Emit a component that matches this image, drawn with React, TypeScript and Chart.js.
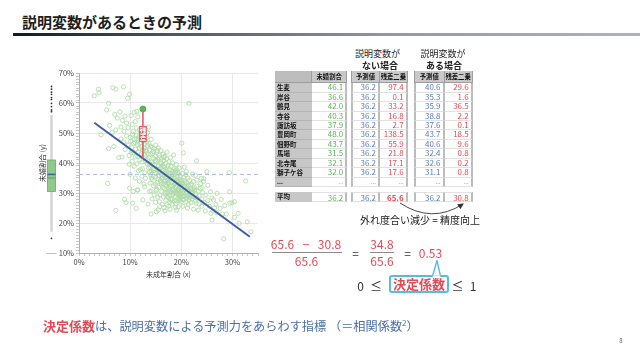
import React, { useEffect, useRef } from 'react';
import { Chart, registerables } from 'chart.js';
Chart.register(...registerables);

// ---------- chart data ----------
const scatterPoints: [number, number][] = [
  [3.0, 62.4], [3.8, 64.6], [3.9, 63.4], [6.6, 65.1], [7.2, 64.6], [8.7, 65.4], [9.5, 61.6], [9.9, 62.9],
  [5.8, 59.9], [5.4, 57.7], [7.0, 56.2], [7.5, 55.0], [8.0, 57.0], [8.5, 54.2], [9.0, 55.6], [9.3, 53.3],
  [10.2, 55.8], [10.8, 56.9], [11.3, 57.2], [11.5, 55.4], [6.0, 52.5], [7.2, 51.0], [8.2, 52.0], [8.8, 50.6],
  [9.6, 51.8], [10.4, 52.9], [11.0, 53.8], [4.3, 49.4], [6.5, 50.2], [5.8, 44.8], [6.8, 45.5], [8.2, 48.0],
  [8.8, 47.0], [9.3, 49.0], [10.0, 48.5], [10.6, 50.5], [11.2, 49.2], [11.8, 51.0], [9.0, 44.5], [9.6, 46.0],
  [7.8, 41.8], [8.4, 42.0], [9.8, 42.5], [10.4, 44.0], [11.0, 46.8], [11.6, 47.5], [5.6, 33.2], [7.2, 24.2],
  [9.2, 26.8], [10.6, 30.5], [11.4, 31.0], [21.5, 59.9], [20.1, 46.6], [20.4, 43.4], [23.0, 40.7], [25.0, 37.1],
  [29.4, 36.8], [32.6, 34.0], [29.4, 30.4], [29.5, 26.6], [29.9, 26.8], [30.4, 27.1], [28.3, 14.7], [31.1, 23.2],
  [30.4, 21.9], [28.0, 23.0], [28.8, 23.0], [32.9, 20.4], [33.6, 17.1], [31.3, 19.9], [26.0, 21.0], [27.0, 23.4],
  [27.6, 24.9], [26.3, 27.7], [25.7, 30.4], [24.3, 33.8], [23.9, 34.9], [27.0, 29.9], [8.9, 27.9], [10.5, 26.6],
  [9.9, 31.6], [11.5, 31.0], [11.2, 24.9], [12.5, 27.7], [13.5, 26.3], [12.8, 32.1], [14.1, 23.0], [15.1, 23.8],
  [15.8, 25.4], [16.8, 24.1], [17.8, 24.6], [19.1, 24.3], [19.4, 25.4], [21.4, 26.3], [22.4, 24.6], [22.9, 26.6],
  [10.1, 47.2], [10.3, 45.1], [10.5, 49.6], [10.7, 43.4], [10.9, 47.9], [11.1, 44.6], [11.2, 51.7], [11.4, 46.2],
  [11.5, 42.1], [11.7, 48.8], [11.8, 44.9], [12.0, 50.4], [12.1, 46.9], [12.2, 43.1], [12.3, 40.3], [12.6, 47.6],
  [12.7, 45.0], [12.8, 49.9], [12.9, 42.6], [13.0, 51.3], [13.1, 44.3], [13.2, 47.0], [13.3, 39.8], [13.4, 45.8],
  [13.5, 43.0], [10.4, 40.6], [10.8, 38.9], [11.3, 39.7], [11.6, 37.4], [11.9, 41.0], [12.4, 38.1], [12.5, 44.2],
  [12.9, 36.7], [13.3, 48.6], [13.6, 52.0], [10.0, 36.2], [11.0, 35.0], [11.8, 33.9], [12.3, 35.6], [12.7, 33.0],
  [13.6, 46.5], [13.7, 41.8], [13.8, 44.4], [13.9, 38.6], [14.0, 42.9], [14.0, 36.1], [14.1, 47.9], [14.2, 40.2],
  [14.3, 45.2], [14.3, 34.5], [14.4, 43.1], [14.5, 38.0], [14.6, 41.5], [14.6, 32.4], [14.7, 44.8], [14.8, 39.4],
  [14.8, 36.7], [14.9, 42.3], [15.0, 35.3], [15.0, 46.0], [15.1, 40.6], [15.1, 30.8], [15.2, 43.7], [15.3, 37.9],
  [15.3, 33.6], [15.4, 41.1], [15.5, 39.0], [15.5, 45.0], [15.6, 35.9], [15.6, 31.9], [15.7, 42.6], [15.8, 37.2],
  [15.8, 29.3], [15.9, 40.0], [15.9, 34.2], [16.0, 44.1], [16.0, 38.4], [16.1, 32.8], [16.1, 36.3], [16.2, 41.6],
  [16.2, 30.4], [16.3, 39.3], [16.3, 34.9], [16.4, 37.5], [16.4, 43.0], [16.5, 33.1], [16.5, 28.7], [16.6, 40.8],
  [16.6, 35.7], [16.7, 31.5], [16.7, 38.6], [16.8, 42.2], [16.8, 36.6], [16.9, 33.9], [16.9, 29.8], [17.0, 39.9],
  [17.0, 35.1], [17.0, 27.6], [13.7, 39.9], [14.2, 37.3], [14.5, 35.6], [14.9, 33.0], [15.2, 31.2], [15.4, 28.6],
  [13.9, 33.3], [14.1, 30.7], [14.7, 29.4], [15.7, 27.1], [16.3, 26.2],
  [17.1, 41.4], [17.1, 32.3], [17.2, 37.0], [17.3, 34.2], [17.3, 30.1], [17.4, 39.0], [17.4, 28.4], [17.5, 35.8],
  [17.5, 33.0], [17.6, 40.4], [17.6, 31.0], [17.7, 37.8], [17.7, 29.2], [17.8, 34.8], [17.8, 26.9], [17.9, 36.5],
  [17.9, 32.0], [18.0, 38.9], [18.0, 30.4], [18.1, 33.7], [18.1, 35.6], [18.2, 28.0], [18.2, 37.2], [18.3, 31.3],
  [18.3, 40.0], [18.4, 34.4], [18.4, 29.5], [18.5, 36.1], [18.5, 32.6], [18.6, 27.3], [18.6, 38.0], [18.7, 30.7],
  [18.7, 35.0], [18.8, 33.3], [18.8, 28.8], [18.9, 36.9], [18.9, 31.8], [19.0, 34.0], [19.0, 26.4], [19.1, 29.9],
  [19.1, 37.7], [19.2, 32.5], [19.2, 35.4], [19.3, 28.2], [19.3, 30.9], [19.4, 33.8], [19.4, 36.3], [19.5, 29.3],
  [19.5, 31.6], [19.6, 27.5], [19.6, 34.6], [19.7, 32.9], [19.7, 30.2], [19.8, 28.6], [19.8, 35.7], [19.9, 31.4],
  [19.9, 33.2], [20.0, 29.8], [20.0, 27.0], [17.2, 43.6], [17.9, 41.8], [18.5, 42.7], [19.0, 39.5], [19.6, 38.3],
  [17.5, 25.6], [18.9, 25.2],
  [20.1, 34.3], [20.1, 31.8], [20.2, 36.5], [20.3, 28.9], [20.3, 33.0], [20.4, 30.5], [20.5, 35.1], [20.5, 27.7],
  [20.6, 32.2], [20.7, 29.4], [20.7, 34.0], [20.8, 31.1], [20.9, 27.0], [20.9, 36.0], [21.0, 30.0], [21.0, 33.5],
  [21.1, 28.4], [21.2, 31.9], [21.3, 35.0], [21.3, 29.3], [21.4, 32.7], [21.5, 27.7], [21.5, 30.6], [21.6, 34.2],
  [21.7, 29.0], [21.8, 31.5], [21.9, 26.8], [22.0, 33.0], [22.0, 29.9], [22.1, 28.1], [22.2, 31.2], [22.3, 30.2],
  [22.4, 33.8], [22.5, 28.7], [22.6, 31.7], [22.7, 27.3], [22.8, 29.8], [23.0, 32.3], [23.1, 28.3], [23.3, 30.6],
  [23.5, 29.0], [23.7, 31.5], [24.0, 28.0], [24.2, 30.1], [24.5, 26.8], [24.8, 29.3], [25.2, 27.5], [25.5, 25.6],
  [26.0, 28.3], [26.5, 25.0], [23.8, 33.2], [24.4, 34.8], [21.0, 37.2], [22.2, 36.3], [20.6, 38.6],
  [13.4, 41.2], [13.8, 37.0], [14.0, 45.6], [14.2, 35.0], [14.4, 39.6], [14.6, 43.9], [14.7, 37.5], [14.9, 40.8],
  [15.1, 36.5], [15.3, 44.2], [15.4, 34.6], [15.6, 38.0], [15.7, 41.7], [15.9, 36.9], [16.0, 33.5], [16.1, 39.8],
  [16.2, 35.1], [16.4, 31.9], [16.5, 38.9], [16.6, 42.0], [16.7, 34.2], [16.8, 30.3], [16.9, 37.8], [17.0, 32.9],
  [17.1, 36.1], [17.2, 29.0], [17.3, 38.3], [17.4, 33.5], [17.5, 31.6], [17.6, 36.6], [17.7, 34.0], [17.8, 30.7],
  [17.9, 27.8], [18.0, 35.0], [18.1, 32.5], [18.2, 29.3], [18.3, 36.4], [18.4, 31.0], [18.5, 34.9], [18.6, 29.9],
  [18.7, 33.0], [18.8, 37.4], [18.9, 30.1], [19.0, 32.2], [19.1, 27.3], [19.2, 34.2], [19.3, 36.9], [19.4, 29.8],
  [19.5, 33.0], [19.6, 31.0], [19.7, 28.0], [19.8, 33.9], [19.9, 29.2], [20.0, 31.0], [20.1, 33.2], [20.2, 27.9],
  [20.3, 30.0], [20.4, 32.2], [20.6, 29.0], [20.8, 33.0], [21.0, 31.4], [21.2, 29.0], [21.4, 30.9], [21.6, 28.4],
  [21.8, 32.6], [22.0, 30.6], [22.3, 28.9], [22.6, 30.9], [12.2, 45.5], [12.4, 49.3], [12.6, 42.9], [12.8, 46.3],
  [13.0, 40.7], [13.2, 43.9], [13.4, 50.1], [13.6, 38.3], [11.9, 46.5], [11.6, 43.7], [11.3, 48.1], [11.0, 42.0],
  [10.7, 46.5], [10.2, 43.5], [9.8, 39.6], [12.0, 37.8], [13.0, 34.9], [13.8, 30.5], [14.3, 28.0], [15.0, 26.9],
  [15.5, 24.4], [16.6, 25.1], [17.2, 26.1], [18.2, 26.3], [20.3, 25.6], [21.2, 25.0], [23.5, 26.3], [24.7, 24.0],
  [25.8, 23.2], [26.8, 26.2], [24.1, 31.8], [23.0, 34.3], [22.8, 35.9], [25.2, 32.6], [27.8, 27.9], [28.5, 25.8],
  [26.2, 24.0], [24.0, 25.6], [23.3, 24.3],
];
const highlightPoint: [number, number] = [12.5, 58.0];
const highlightPrediction = 41.5;
const residualLabelY = 49.7;
const regressionLine: [number, number][] = [[3.0, 53.4], [33.4, 15.4]];
const meanY = 36.2;
const xRange: [number, number] = [0, 35];
const yRange: [number, number] = [10, 70];
const boxWhiskers: [number, number] = [17.1, 56.0];
const boxQuartiles: [number, number] = [30.5, 41.0];
const boxMedian = 35.0;
const boxMean = 36.2;
const boxOutliers = [65.5, 64.6, 63.6, 62.9, 61.8, 61.2, 59.9, 58.8, 57.7, 57.1, 14.9];

// ---------- table data ----------
const areaNames = ['生麦', '岸谷', '鶴見', '寺谷', '諏訪坂', '豊岡町', '佃野町', '馬場', '北寺尾', '獅子ケ谷'];
const unmarriedRate = [46.1, 36.6, 42.0, 40.3, 37.9, 48.0, 43.7, 31.5, 32.1, 32.0];
const predNoVar = [36.2, 36.2, 36.2, 36.2, 36.2, 36.2, 36.2, 36.2, 36.2, 36.2];
const residSqNoVar = [97.4, 0.1, 33.2, 16.8, 2.7, 138.5, 55.9, 21.8, 17.1, 17.6];
const predWithVar = [40.6, 35.3, 35.9, 38.8, 37.6, 43.7, 40.6, 32.4, 32.6, 31.1];
const residSqWithVar = [29.6, 1.6, 36.5, 2.2, 0.1, 18.5, 9.6, 0.8, 0.2, 0.8];
const avgUnmarried = 36.2;
const avgPredNoVar = 36.2;
const avgResidNoVar = 65.6;
const avgPredWithVar = 36.2;
const avgResidWithVar = 30.8;

const FONT = '"Noto Sans CJK JP", "Noto Sans", sans-serif';
const GREEN = '#5cb35a';
const BLUE = '#5a7cc0';
const RED = '#e24b56';

const overlayPlugin = {
  id: 'overlay',
  afterDraw(chart: any) {
    const { ctx } = chart;
    const x = chart.scales.x;
    const y = chart.scales.y;
    ctx.save();
    // box plot on the left margin
    const bx = 21.5;
    ctx.strokeStyle = '#bdbdbd';
    ctx.lineWidth = 1;
    ctx.beginPath();
    ctx.moveTo(bx - 5, y.getPixelForValue(yRange[0]) + 0.5);
    ctx.lineTo(bx + 5, y.getPixelForValue(yRange[0]) + 0.5);
    ctx.stroke();
    ctx.strokeStyle = '#d4d4d4';
    ctx.lineWidth = 2.5;
    ctx.beginPath();
    ctx.moveTo(bx, y.getPixelForValue(boxWhiskers[1]));
    ctx.lineTo(bx, y.getPixelForValue(boxWhiskers[0]));
    ctx.stroke();
    const top = y.getPixelForValue(boxQuartiles[1]);
    const bot = y.getPixelForValue(boxQuartiles[0]);
    ctx.fillStyle = '#8fca8c';
    ctx.fillRect(bx - 4, top, 8, bot - top);
    ctx.strokeStyle = '#6aa867';
    ctx.lineWidth = 0.8;
    ctx.strokeRect(bx - 4, top, 8, bot - top);
    ctx.strokeStyle = '#5e9a5b';
    ctx.lineWidth = 1;
    ctx.beginPath();
    ctx.moveTo(bx - 4, y.getPixelForValue(boxMedian));
    ctx.lineTo(bx + 4, y.getPixelForValue(boxMedian));
    ctx.stroke();
    ctx.strokeStyle = '#3a5fb0';
    ctx.lineWidth = 1.5;
    ctx.beginPath();
    ctx.moveTo(bx - 4, y.getPixelForValue(boxMean));
    ctx.lineTo(bx + 4, y.getPixelForValue(boxMean));
    ctx.stroke();
    ctx.fillStyle = '#333';
    boxOutliers.forEach((v) => {
      ctx.beginPath();
      ctx.arc(bx, y.getPixelForValue(v), 0.9, 0, Math.PI * 2);
      ctx.fill();
    });
    // residual label
    const px = x.getPixelForValue(highlightPoint[0]);
    const py = y.getPixelForValue(residualLabelY);
    ctx.fillStyle = '#e8525c';
    ctx.fillRect(px - 3.8, py - 8, 7.6, 16);
    ctx.fillStyle = '#fff';
    ctx.font = `bold 6.5px ${FONT}`;
    ctx.textAlign = 'center';
    ctx.textBaseline = 'middle';
    ctx.fillText('残', px, py - 3.7);
    ctx.fillText('差', px, py + 3.9);
    ctx.restore();
  },
};

function Txt(props: { x: number; y: number; size: number; color?: string; bold?: boolean; align?: 'left' | 'center' | 'right'; children: React.ReactNode }) {
  const { x, y, size, color = '#222', bold, align = 'left', children } = props;
  const w = 600;
  const left = align === 'left' ? x : align === 'center' ? x - w / 2 : x - w;
  return (
    <div
      style={{
        position: 'absolute', left, top: y - size / 2, width: w, height: size, lineHeight: `${size}px`,
        fontSize: size, color, fontWeight: bold ? 700 : 400, textAlign: align, whiteSpace: 'nowrap', fontFamily: FONT,
      }}
    >
      {children}
    </div>
  );
}

const HEAD_TOP = 70.7;
const HEAD_H = 12.6;
const ROW_TOP = 83.3;
const ROW_H = 9.43;
const AVG_TOP = 191.7;
const AVG_H = 10;

function Cell(props: { x: number; y: number; w: number; h: number; bg: string; text: string; color: string; size: number; bold?: boolean; align: 'left' | 'center' | 'right'; br?: string; bb?: string; bl?: string; bt?: string }) {
  const { x, y, w, h, bg, text, color, size, bold, align, br, bb, bl, bt } = props;
  return (
    <div
      style={{
        position: 'absolute', left: x, top: y, width: w, height: h, background: bg, boxSizing: 'border-box',
        borderRight: br, borderBottom: bb, borderLeft: bl, borderTop: bt, fontSize: size, color, fontWeight: bold ? 700 : 400,
        textAlign: align, lineHeight: `${h - 1}px`, paddingLeft: align === 'left' ? 2 : 0, paddingRight: align === 'right' ? 2 : 0,
        whiteSpace: 'nowrap', overflow: 'hidden', fontFamily: FONT,
      }}
    >
      {text}
    </div>
  );
}

function ValueTable(props: { cols: number[]; headers: string[]; data: number[][]; colors: string[]; avg: number[]; boldAvg?: boolean[]; names?: boolean }) {
  const { cols, headers, data, colors, avg, boldAvg = [], names } = props;
  const cells: React.ReactNode[] = [];
  const sep = '2px solid #bcbcbc';
  const line = '1px solid #e2e2e2';
  let c0 = 0;
  if (names) {
    const nx = cols[0];
    const nw = cols[1] - cols[0];
    cells.push(<Cell key="nh" x={nx} y={HEAD_TOP} w={nw} h={HEAD_H} bg="#bdbdbd" text="" color="#111" size={6.5} align="left" br="1px solid #9d9d9d" bb="1px solid #9d9d9d" />);
    [...areaNames, '...'].forEach((n, i) => {
      cells.push(<Cell key={'n' + i} x={nx} y={ROW_TOP + i * ROW_H} w={nw} h={ROW_H} bg="#c7c7c7" text={n} color="#111" size={i === areaNames.length ? 6 : 6.5} bold align="left" bb="1px solid #b3b3b3" />);
    });
    cells.push(<Cell key="navg" x={nx} y={AVG_TOP} w={nw} h={AVG_H} bg="#c7c7c7" text="平均" color="#111" size={6.5} bold align="left" />);
    c0 = 1;
  }
  data.forEach((col, j) => {
    const x0 = cols[c0 + j];
    const w = cols[c0 + j + 1] - x0;
    const bl = j === 0 && !names ? sep : undefined;
    cells.push(<Cell key={'h' + j} x={x0} y={HEAD_TOP} w={w} h={HEAD_H} bg="#c9c9c9" text={headers[j]} color="#111" size={6.3} bold align="center" br="1px solid #9d9d9d" bb="1px solid #9d9d9d" bl={j === 0 && !names ? '1px solid #9d9d9d' : undefined} />);
    [...col.map((v) => v.toFixed(1)), '...'].forEach((t, i) => {
      cells.push(<Cell key={'v' + j + '_' + i} x={x0} y={ROW_TOP + i * ROW_H} w={w} h={ROW_H} bg="#fff" text={t} color={colors[j]} size={i === col.length ? 6 : 8} align="right" br={sep} bb={line} bl={bl} />);
    });
    cells.push(<Cell key={'a' + j} x={x0} y={AVG_TOP} w={w} h={AVG_H} bg="#fff" text={avg[j].toFixed(1)} color={colors[j]} size={8} bold={boldAvg[j]} align="right" br={sep} bb={line} bt={line} bl={bl} />);
  });
  return <>{cells}</>;
}

export default function App() {
  const ref = useRef<HTMLCanvasElement>(null);
  useEffect(() => {
    Chart.defaults.font.family = FONT;
    const gridColor = (c: any) => (c.tick && Math.round(c.tick.value) % 10 === 0 ? '#e9e9e9' : 'rgba(0,0,0,0)');
    const pctLabel = (v: any) => (Math.round(Number(v)) % 10 === 0 ? `${v}%` : '');
    const chart = new Chart(ref.current as HTMLCanvasElement, {
      type: 'scatter',
      data: {
        datasets: [
          {
            data: [{ x: highlightPoint[0], y: highlightPoint[1] }],
            pointRadius: 3, backgroundColor: '#5cb85c', borderColor: '#4f9f4f', borderWidth: 0.8, order: 1,
          },
          {
            data: [{ x: highlightPoint[0], y: highlightPoint[1] }, { x: highlightPoint[0], y: highlightPrediction }],
            showLine: true, pointRadius: 0, borderColor: '#e8525c', borderWidth: 1.5, order: 2,
          },
          {
            data: regressionLine.map(([x, y]) => ({ x, y })),
            showLine: true, pointRadius: 0, borderColor: '#3d5ea6', borderWidth: 2, order: 3,
          },
          {
            data: [{ x: xRange[0], y: meanY }, { x: xRange[1], y: meanY }],
            showLine: true, pointRadius: 0, borderColor: '#a9b8ea', borderWidth: 1, borderDash: [4, 3], order: 4,
          },
          {
            data: scatterPoints.map(([x, y]) => ({ x, y })),
            pointRadius: 2.1, backgroundColor: 'rgba(0,0,0,0)', borderColor: '#aedaa5', borderWidth: 0.85, order: 5,
          },
        ] as any,
      },
      options: {
        animation: false,
        responsive: false,
        events: [],
        layout: { padding: { top: 13, right: 12, left: 0, bottom: 0 } },
        plugins: { legend: { display: false }, tooltip: { enabled: false } },
        scales: {
          x: {
            type: 'linear', min: xRange[0], max: xRange[1],
            afterFit: (s: any) => { s.height = 32; },
            ticks: { stepSize: 1, autoSkip: false, maxTicksLimit: 100, maxRotation: 0, padding: 2, font: { size: 7.5 }, color: '#444', callback: pctLabel },
            grid: { color: gridColor, tickColor: '#c6c6c6', tickLength: 3, drawTicks: true },
            border: { color: '#b0b0b0' },
            title: { display: true, text: '未成年割合 (x)', font: { size: 7 }, color: '#333', padding: { top: 0, bottom: 6.8 } },
          },
          y: {
            type: 'linear', min: yRange[0], max: yRange[1],
            afterFit: (s: any) => { s.width = 49; },
            ticks: { stepSize: 1, autoSkip: false, maxTicksLimit: 100, padding: 2, font: { size: 7.5 }, color: '#444', callback: pctLabel },
            grid: { color: gridColor, tickColor: '#c6c6c6', tickLength: 3, drawTicks: true },
            border: { color: '#b0b0b0' },
            title: { display: true, text: '未婚割合 (y)', font: { size: 7 }, color: '#333', padding: { top: 7.8, bottom: 0 } },
          },
        },
      } as any,
      plugins: [overlayPlugin],
    });
    return () => chart.destroy();
  }, []);

  const cyan = '#55bde0';
  return (
    <div style={{ position: 'absolute', left: 0, top: 0, width: 640, height: 361, background: '#fff', overflow: 'hidden', fontFamily: FONT }}>
      <Txt x={22} y={21.5} size={15} bold color="#1e1e1e">説明変数があるときの予測</Txt>
      <div style={{ position: 'absolute', left: 13, top: 33, width: 627, height: 2.5, background: 'linear-gradient(to right, #15172a, #4b5468 25%, #8e9aab 60%, #aab5c3)' }} />

      <div style={{ position: 'absolute', left: 30, top: 60, width: 240, height: 225 }}>
        <canvas ref={ref} width={240} height={225} style={{ display: 'block' }} />
      </div>

      <Txt x={377.5} y={53} size={9} align="center">説明変数が</Txt>
      <Txt x={380} y={65} size={9} bold align="center">ない場合</Txt>
      <Txt x={443} y={53} size={9} align="center">説明変数が</Txt>
      <Txt x={444} y={65} size={9} bold align="center">ある場合</Txt>

      <ValueTable cols={[275, 312, 347.3]} headers={['未婚割合']} data={[unmarriedRate]} colors={[GREEN]} avg={[avgUnmarried]} names />
      <ValueTable cols={[351, 380, 407.7]} headers={['予測値', '残差二乗']} data={[predNoVar, residSqNoVar]} colors={[BLUE, RED]} avg={[avgPredNoVar, avgResidNoVar]} boldAvg={[false, true]} />
      <ValueTable cols={[414, 444.5, 472.7]} headers={['予測値', '残差二乗']} data={[predWithVar, residSqWithVar]} colors={[BLUE, RED]} avg={[avgPredWithVar, avgResidWithVar]} />

      <svg width={640} height={361} style={{ position: 'absolute', left: 0, top: 0, pointerEvents: 'none' }}>
        <defs>
          <marker id="ah" markerWidth="6" markerHeight="6" refX="5" refY="3" orient="auto" markerUnits="userSpaceOnUse">
            <path d="M0,0 L6,3 L0,6 Z" fill="#333" />
          </marker>
        </defs>
        <path d="M 400 203 Q 432 224 463 204" fill="none" stroke="#333" strokeWidth={0.9} markerEnd="url(#ah)" />
      </svg>
      <Txt x={420} y={220} size={10} align="center">外れ度合い減少 = 精度向上</Txt>

      <Txt x={282.5} y={244.3} size={12} color={RED} align="center">65.6</Txt>
      <Txt x={306} y={244.3} size={12} color={RED} align="center">−</Txt>
      <Txt x={329.5} y={244.3} size={12} color={RED} align="center">30.8</Txt>
      <div style={{ position: 'absolute', left: 272, top: 252, width: 70, height: 1, background: '#8a8a8a' }} />
      <Txt x={306.5} y={260.5} size={12} color={RED} align="center">65.6</Txt>
      <Txt x={355.5} y={253} size={12} color="#333" align="center">=</Txt>
      <Txt x={382} y={244.3} size={12} color={RED} align="center">34.8</Txt>
      <div style={{ position: 'absolute', left: 370, top: 252, width: 24, height: 1, background: '#8a8a8a' }} />
      <Txt x={382} y={260.5} size={12} color={RED} align="center">65.6</Txt>
      <Txt x={407.5} y={253} size={12} color="#333" align="center">=</Txt>
      <Txt x={430.5} y={253} size={12} color={RED} align="center">0.53</Txt>

      <div style={{ position: 'absolute', left: 389, top: 275, width: 60, height: 17.5, border: `2px solid ${cyan}`, borderRadius: 3, boxSizing: 'border-box', background: '#fff' }} />
      <svg width={640} height={361} style={{ position: 'absolute', left: 0, top: 0, pointerEvents: 'none' }}>
        <polygon points="432.5,276.2 437,260.5 440.5,276.2" fill="#fff" stroke={cyan} strokeWidth={1.4} strokeLinejoin="round" />
        <rect x={432.8} y={275.6} width={7.4} height={1.8} fill="#fff" />
      </svg>
      <Txt x={419} y={283.7} size={13} bold color={RED} align="center">決定係数</Txt>
      <Txt x={360.5} y={285.5} size={12} color="#333" align="center">0</Txt>
      <Txt x={376} y={285.5} size={12} color="#333" align="center">≤</Txt>
      <Txt x={457.5} y={285.5} size={12} color="#333" align="center">≤</Txt>
      <Txt x={473} y={285.5} size={12} color="#333" align="center">1</Txt>

      <div style={{ position: 'absolute', left: 43, top: 318.5, height: 14, lineHeight: '14px', whiteSpace: 'nowrap', fontFamily: FONT, fontSize: 12.2, color: '#4a6ea8' }}>
        <span style={{ color: RED, fontWeight: 700, fontSize: 13 }}>決定係数</span>
        は、説明変数による予測力をあらわす指標 （＝相関係数<sup style={{ fontSize: 8, verticalAlign: 'top', lineHeight: '8px' }}>2</sup>）
      </div>
      <Txt x={621} y={341} size={6} color="#666" align="center">8</Txt>
    </div>
  );
}
